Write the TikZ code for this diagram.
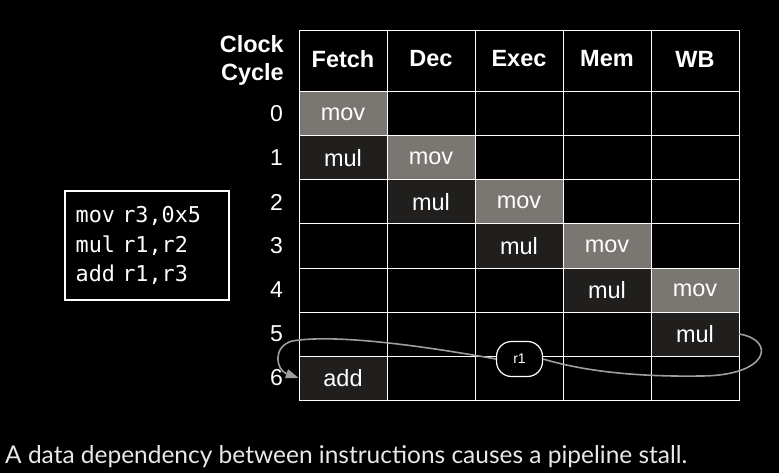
\documentclass[tikz,border=0pt]{standalone}
\usepackage{fontspec}
\setmainfont{Liberation Sans}
\newfontfamily\tabfont{Liberation Sans}
\newfontfamily\codefont{DejaVu Sans Mono}
\newfontfamily\capfont{Lato}
\usetikzlibrary{arrows.meta}
\definecolor{cellgray}{HTML}{7A7672}
\definecolor{celldark}{HTML}{201F1E}
\definecolor{wirecol}{HTML}{A09E9A}
\definecolor{captext}{HTML}{E8E8E8}
\begin{document}
\begin{tikzpicture}[x=1pt,y=-1pt,
  cell/.style={minimum width=88pt,minimum height=44pt,inner sep=0pt,text=white,font=\tabfont\fontsize{23.5}{27}\selectfont},
  movcell/.style={cell,fill=cellgray},
  mulcell/.style={cell,fill=celldark},
  hdr/.style={text=white,font=\tabfont\bfseries\fontsize{23.5}{28}\selectfont,inner sep=0pt},
  rownum/.style={text=white,font=\tabfont\fontsize{23}{27}\selectfont,inner sep=0pt,anchor=east},
  gridline/.style={draw=white,line width=1pt},
  regbox/.style={draw=white,fill=black,line width=1.2pt,rounded corners=15pt,minimum width=46pt,minimum height=35pt,inner sep=0pt,text=white,font=\tabfont\fontsize{14}{16}\selectfont},
  wire/.style={draw=wirecol,line width=1.6pt},
  codebox/.style={draw=white,line width=1.6pt,text=white,minimum width=164pt,minimum height=109pt,inner xsep=10.7pt,text width=142.6pt,align=left,font=\codefont\fontsize{21.8}{29.5}\selectfont}
]
\fill[black] (0,0) rectangle (779,473);
\useasboundingbox (0,0) rectangle (779,473);

% cells
\node[movcell] (mov0) at (343,114) {mov};
\node[movcell] (mov1) at (431,158) {mov};
\node[movcell] (mov2) at (519,202) {mov};
\node[movcell] (mov3) at (607,246) {mov};
\node[movcell] (mov4) at (695,290) {mov};
\node[mulcell] (mul1) at (343,158) {mul};
\node[mulcell] (mul2) at (431,202) {mul};
\node[mulcell] (mul3) at (519,246) {mul};
\node[mulcell] (mul4) at (607,290) {mul};
\node[mulcell] (mul5) at (695,334) {mul};
\node[mulcell] (add6) at (343,378) {add};

% grid
\draw[gridline] (299,31) rectangle (739,400);
\foreach \x in {387,475,563,651} \draw[gridline] (\x,31) -- (\x,400);
\foreach \y in {92,136,180,224,268,312,356} \draw[gridline] (299,\y) -- (739,\y);

% headers
\node[hdr] (hfetch) at (343,59) {Fetch};
\node[hdr] (hdec) at (431,59) {Dec};
\node[hdr] (hexec) at (519,59) {Exec};
\node[hdr] (hmem) at (607,59) {Mem};
\node[hdr] (hwb) at (695,59) {WB};
\node[hdr,align=right,anchor=east] (hclock) at (284,60) {Clock\\Cycle};

% row numbers
\node[rownum] (n0) at (283,114) {0};
\node[rownum] (n1) at (283,158) {1};
\node[rownum] (n2) at (283,202) {2};
\node[rownum] (n3) at (283,246) {3};
\node[rownum] (n4) at (283,290) {4};
\node[rownum] (n5) at (283,334) {5};
\node[rownum] (n6) at (283,378) {6};

% code
\node[codebox] (code) at (147,245.5) {mov r3,0x5\\mul r1,r2\\add r1,r3};

% dependency
\node[regbox] (r1) at (519.5,359) {r1};
\draw[wire] (mul5.east) .. controls (776,340) and (770,376) .. (700,376)
  .. controls (630,377) and (580,370) .. (r1.east);
\draw[wire,-{Triangle[length=13pt,width=9pt]}] (r1.west) .. controls (440,349) and (340,333) .. (292,341)
  .. controls (272,347) and (276,370) .. (add6.west);

% caption
\node[anchor=base west,inner sep=0pt,text=captext] (caption) at (5,463) {\resizebox{682pt}{18pt}{\capfont A data dependency between instructions causes a pipeline stall.}};
\end{tikzpicture}
\end{document}
